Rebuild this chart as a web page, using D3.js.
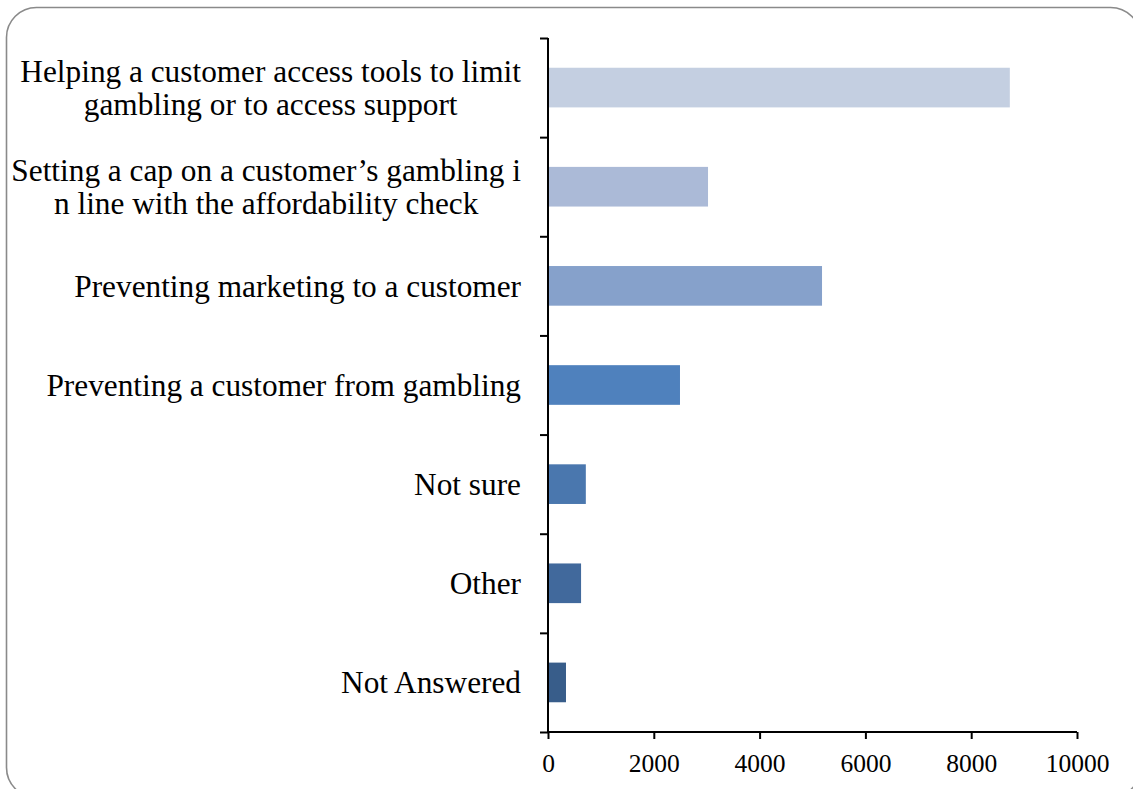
<!DOCTYPE html>
<html>
<head>
<meta charset="utf-8">
<script src="https://cdn.jsdelivr.net/npm/d3@7"></script>
<style>
  html, body { margin: 0; padding: 0; background: #ffffff; }
  svg { display: block; }
  text { font-family: "Liberation Serif", "DejaVu Serif", serif; fill: #000; }
</style>
</head>
<body>
<svg id="chart" width="1133" height="789"></svg>
<script>
// Responses, listed top to bottom
const categories = [
  ["Helping a customer access tools to limit", "gambling or to access support"],
  ["Setting a cap on a customer\u2019s gambling i", "n line with the affordability check"],
  ["Preventing marketing to a customer"],
  ["Preventing a customer from gambling"],
  ["Not sure"],
  ["Other"],
  ["Not Answered"]
];
const values = [8730, 3025, 5180, 2495, 715, 625, 340];
const barColors = ["#c4cfe1", "#abbad7", "#86a1cb", "#4f81bd", "#4a77ae", "#41699c", "#385d8a"];
const xTicks = [0, 2000, 4000, 6000, 8000, 10000];

const svg = d3.select("#chart");

// Rounded outer frame
svg.append("rect")
  .attr("x", 6.5).attr("y", 7.5)
  .attr("width", 1134).attr("height", 790)
  .attr("rx", 30).attr("ry", 30)
  .attr("fill", "#fff")
  .attr("stroke", "#8a8a8a")
  .attr("stroke-width", 1.6);

const plotLeft = 548, plotRight = 1077, plotTop = 38, plotBottom = 732;

const x = d3.scaleLinear().domain([0, 10000]).range([plotLeft, plotRight]);
const idx = d3.range(categories.length);
const y = d3.scaleBand().domain(idx).range([plotTop, plotBottom]).paddingInner(0.6).paddingOuter(0.3);

// Bars
svg.append("g").selectAll("rect")
  .data(idx)
  .join("rect")
  .attr("x", x(0))
  .attr("y", i => y(i))
  .attr("width", i => x(values[i]) - x(0))
  .attr("height", y.bandwidth())
  .attr("fill", i => barColors[i]);

// Category axis: boundary ticks between categories
const yb = d3.scaleLinear().domain([0, categories.length]).range([plotTop, plotBottom]);
const yAxis = svg.append("g")
  .attr("transform", `translate(${plotLeft},0)`)
  .call(d3.axisLeft(yb).tickValues(d3.range(categories.length + 1)).tickSize(8).tickFormat(""));
yAxis.selectAll("path").attr("stroke", "#000").attr("stroke-width", 2).attr("d", `M0,${plotTop}V${plotBottom}`);
yAxis.selectAll("line").attr("stroke", "#000").attr("stroke-width", 2);

// Value axis
const xAxis = svg.append("g")
  .attr("transform", `translate(0,${plotBottom})`)
  .call(d3.axisBottom(x).tickValues(xTicks).tickSize(7).tickPadding(15).tickFormat(d3.format("d")));
xAxis.selectAll("path").attr("stroke", "#000").attr("stroke-width", 2).attr("d", `M${plotLeft},0H${plotRight}`);
xAxis.selectAll("line").attr("stroke", "#000").attr("stroke-width", 2);
xAxis.selectAll("text")
  .attr("font-size", 25.5)
  .attr("font-family", "Liberation Serif, serif")
  .attr("fill", "#000");

// Category labels (right-aligned block, lines centred within it)
const labelRight = 521;
const lineH = 33;
const labels = svg.append("g").attr("font-size", 31.3);
idx.forEach(i => {
  const lines = categories[i];
  const cy = y(i) + y.bandwidth() / 2;
  const g = labels.append("g");
  const texts = lines.map((ln, k) => g.append("text")
    .attr("y", cy + (k - (lines.length - 1) / 2) * lineH)
    .attr("dy", "0.35em")
    .attr("text-anchor", "middle")
    .text(ln));
  const w = d3.max(texts, t => t.node().getComputedTextLength());
  texts.forEach(t => t.attr("x", labelRight - w / 2));
});
</script>
</body>
</html>
